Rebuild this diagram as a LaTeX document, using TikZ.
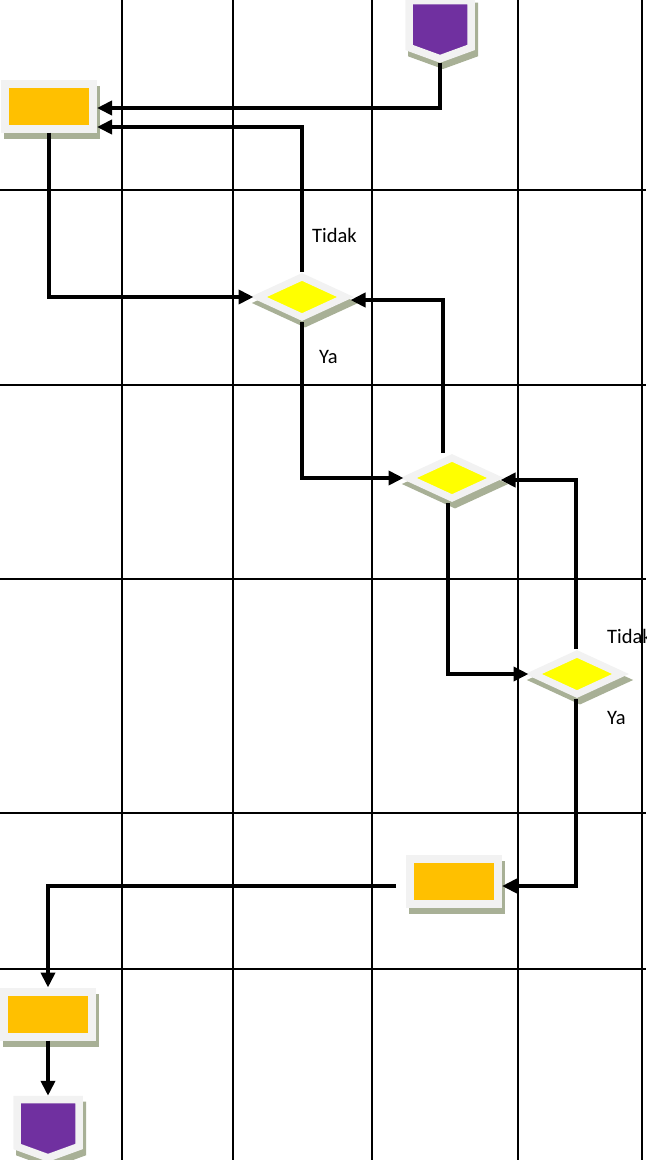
\documentclass[tikz,border=0pt]{standalone}
\usepackage{fontspec}
\setmainfont{Carlito}
\usetikzlibrary{shapes.geometric, shapes.symbols, arrows.meta, positioning, calc}
\definecolor{inkcolor}{HTML}{000000}
\definecolor{framegray}{HTML}{F2F2F2}
\definecolor{shadegreen}{HTML}{A8B096}
\definecolor{boxfill}{HTML}{FFC000}
\definecolor{decisionfill}{HTML}{FFFF00}
\definecolor{termfill}{HTML}{7030A0}

\begin{document}
\begin{tikzpicture}[x=1pt, y=-1pt, every node/.style={font=\fontsize{20.5}{24}\selectfont}]

\tikzset{
  gridline/.style={inkcolor, line width=1.8pt},
  flowline/.style={-{Triangle[length=15pt, width=14pt]}, inkcolor, line width=4pt},
  framed/.style={draw=framegray, line width=8pt,
    preaction={draw=shadegreen, fill=shadegreen, line width=8pt,
      transform canvas={xshift=3pt, yshift=-6pt}}},
  processbox/.style={rectangle, framed, fill=boxfill, inner sep=0pt,
    minimum width=88pt, minimum height=45pt},
  decision/.style={diamond, framed, line width=7pt, fill=decisionfill, inner sep=0pt,
    minimum width=90pt, minimum height=43pt},
  terminal/.style={signal, signal to=south, signal from=nowhere, signal pointer angle=140,
    framed, line width=7.5pt, fill=termfill, inner sep=0pt,
    minimum width=62pt, minimum height=47pt},
  answer/.style={anchor=west, inner sep=0pt},
}

\useasboundingbox (0,0) rectangle (646,1160);

% ---- swimlane grid ----
\draw[gridline] (122,0) -- (122,1160) (233,0) -- (233,1160) (372,0) -- (372,1160)
  (518,0) -- (518,1160) (642,0) -- (642,1160);
\draw[gridline] (0,190) -- (646,190) (0,385) -- (646,385) (0,579) -- (646,579)
  (0,813) -- (646,813) (0,969) -- (646,969);

% ---- shapes ----
\node[terminal]   (startterm) at (440,24)   {};
\node[processbox] (inputbox)  at (49,106)   {};
\node[decision]   (checkone)  at (302,297)  {};
\node[decision]   (checktwo)  at (452,478)  {};
\node[decision]   (checkthree) at (577,674) {};
\node[processbox] (outputbox) at (454,881)  {};
\node[processbox] (finalbox)  at (48,1014)  {};
\node[terminal]   (endterm)   at (48,1123)  {};

% ---- answer labels ----
\node[answer] (noone)    at (312,235) {Tidak};
\node[answer] (yesone)   at (319,357) {Ya};
\node[answer] (nothree)  at (607,636) {Tidak};
\node[answer] (yesthree) at (607,718) {Ya};

% ---- connectors ----
\draw[flowline] (startterm.south) |- ([yshift=-2pt]inputbox.east);
\draw[flowline] (checkone.north) |- ([yshift=-21pt]inputbox.east);
\draw[flowline] (inputbox.south) |- (checkone.west);
\draw[flowline] (checkone.south) |- (checktwo.west);
\draw[flowline] ([xshift=-9pt]checktwo.north) |- ([yshift=-3pt]checkone.east);
\draw[flowline] ([xshift=-4pt]checktwo.south) |- (checkthree.west);
\draw[flowline] ([xshift=-1pt]checkthree.north) |- ([yshift=-2pt]checktwo.east);
\draw[flowline] ([xshift=-1pt]checkthree.south) |- ([yshift=-5pt]outputbox.east);
\draw[flowline, shorten <=10pt] ([yshift=-5pt]outputbox.west) -| (finalbox.north);
\draw[flowline] (finalbox.south) -- (endterm.north);

\end{tikzpicture}
\end{document}
